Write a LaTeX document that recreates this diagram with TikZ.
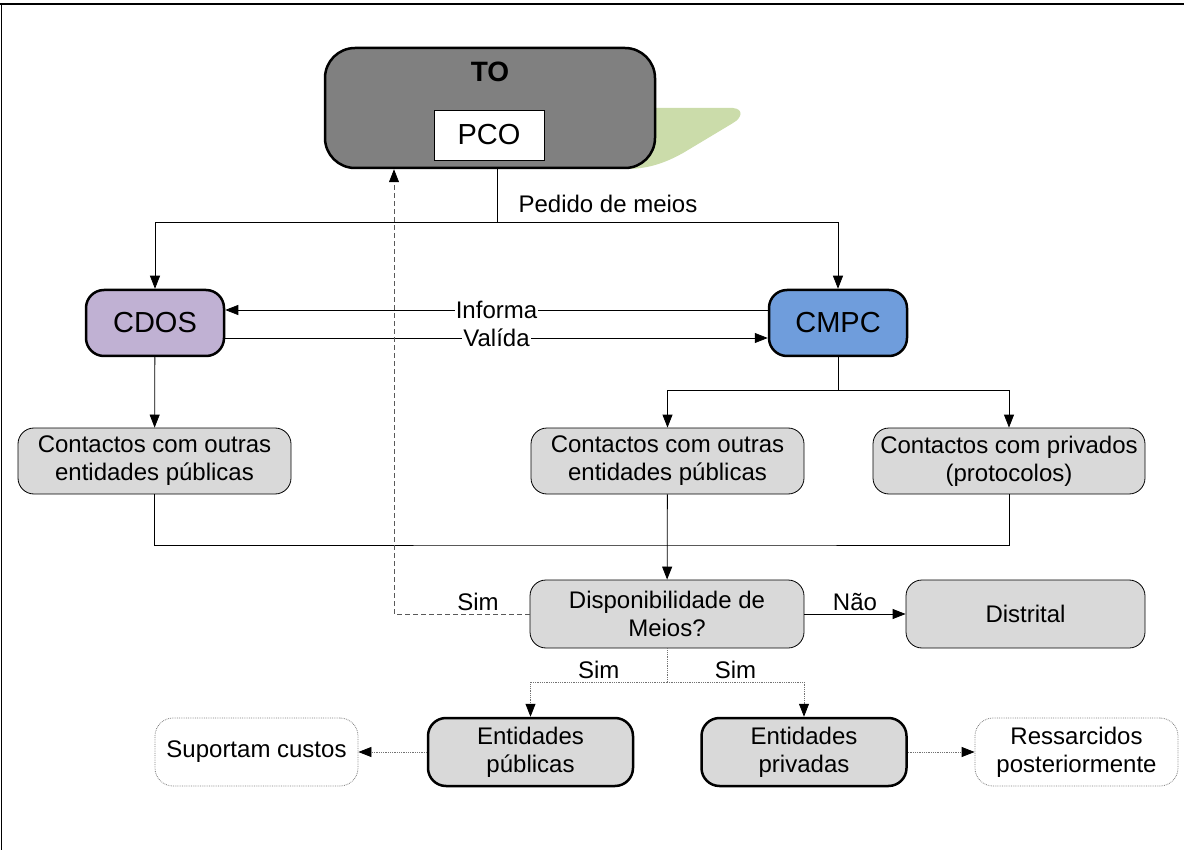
\documentclass[tikz,border=0pt]{standalone}
\usepackage{fontspec}
\setmainfont{Liberation Sans}
\usetikzlibrary{arrows.meta,positioning,calc}
\definecolor{togray}{RGB}{128,128,128}
\definecolor{leafgreen}{RGB}{203,220,170}
\definecolor{cdospurple}{RGB}{192,177,211}
\definecolor{cmpcblue}{RGB}{111,157,220}
\definecolor{boxgray}{RGB}{217,217,217}

\begin{document}
\begin{tikzpicture}[x=1pt,y=-1pt,
  every node/.style={font=\fontsize{24}{28}\selectfont},
  box/.style={draw,fill=boxgray,rounded corners=16pt,line width=0.8pt,minimum width=273pt,minimum height=66pt,align=center},
  keybox/.style={draw,rounded corners=18pt,line width=2.5pt,minimum width=138pt,minimum height=66pt,font=\fontsize{29}{32}\selectfont},
  entbox/.style={draw,fill=boxgray,rounded corners=18pt,line width=2.5pt,minimum width=205pt,minimum height=68pt,align=center},
  endbox/.style={draw=black!50,densely dotted,fill=white,rounded corners=18pt,line width=0.8pt,minimum width=203pt,minimum height=68pt,align=center},
  line/.style={line width=0.8pt},
  arr/.style={-{Triangle[length=13pt,width=10pt,color=black]},line width=0.8pt},
  dasharr/.style={arr,draw=black!65,dash pattern=on 5pt off 3pt,line width=0.7pt},
  dotline/.style={densely dotted,draw=black!55,line width=0.8pt},
  dotarr/.style={arr,dotline}
]
\useasboundingbox (0,0) rectangle (1184,850);
% Frame
\draw[line width=2.5pt] (0,4) -- (1184,4);
\draw[line width=1pt] (1,4) -- (1,850);

% Shadow behind TO
\fill[leafgreen] (640,108) -- (733,108) .. controls (744,109) and (742,118) .. (733,123)
  -- (683,153) .. controls (665,163) and (650,168) .. (630,169) -- cycle;

% Boxes
\node[draw,fill=togray,rounded corners=30pt,line width=2.5pt,minimum width=330pt,minimum height=120pt] (to) at (490,108) {};
\node[font=\fontsize{28}{30}\selectfont\bfseries] (tolbl) at (490,72) {TO};
\node[draw,fill=white,line width=0.8pt,minimum width=110pt,minimum height=50pt,font=\fontsize{29}{32}\selectfont] (pco) at (489,135) {PCO};
\node[keybox,fill=cdospurple] (cdos) at (155,323) {CDOS};
\node[keybox,fill=cmpcblue]   (cmpc) at (838,323) {CMPC};
\node[box] (pub1) at (154.5,461) {Contactos com outras\\entidades públicas};
\node[box] (pub2) at (667.5,461) {Contactos com outras\\entidades públicas};
\node[box,minimum width=272pt] (priv) at (1009,461) {Contactos com privados\\(protocolos)};
\node[box,minimum width=274pt,minimum height=68pt] (disp) at (667,614) {Disponibilidade de\\Meios?};
\node[box,minimum width=239pt,minimum height=68pt] (distrital) at (1025.5,614) {Distrital};
\node[entbox] (entpub)  at (530.5,752) {Entidades\\públicas};
\node[entbox] (entpriv) at (804,752)   {Entidades\\privadas};
\node[endbox] (custos)  at (256.5,752) {Suportam custos};
\node[endbox] (ressarc) at (1076.5,752) {Ressarcidos\\posteriormente};

% Connectors
\coordinate (pedido) at (497,222);
\draw[line] (to.south -| pedido) -- (pedido);
\node (pedidolbl) at (608,204) {Pedido de meios};
\draw[arr] (pedido) -| (cdos);
\draw[arr] (pedido) -| (cmpc);
\draw[arr] ([yshift=13pt]cmpc.west) -- ([yshift=13pt]cdos.east)
  node[midway,fill=white,inner sep=1pt]{Informa};
\draw[arr] ([yshift=-15pt]cdos.east) -- ([yshift=-15pt]cmpc.west)
  node[midway,fill=white,inner sep=1pt]{Valída};
\draw[arr] (cdos) -- (pub1);
\coordinate (cmpcsplit) at (838,390);
\draw[line] (cmpc) -- (cmpcsplit);
\draw[arr] (cmpcsplit) -| (pub2);
\draw[arr] (cmpcsplit) -| (priv);
\coordinate (merge) at (667,545);
\draw[line] (pub1) |- (merge) -| (priv);
\draw[arr] (pub2) -- (disp);
\draw[arr] (disp) -- (distrital) node[midway,above]{Não};
\coordinate (simcorner) at (394,614);
\draw[dasharr] (disp) -- (simcorner) node[pos=0.38,above,text=black]{Sim} -- (to.south -| simcorner);
\coordinate (simsplit) at (667,682);
\draw[dotline] (disp) -- (simsplit);
\draw[dotarr] (simsplit) -| (entpub)  node[pos=0.25,above,text=black]{Sim};
\draw[dotarr] (simsplit) -| (entpriv) node[pos=0.25,above,text=black]{Sim};
\draw[dotarr] (entpub) -- (custos);
\draw[dotarr] (entpriv) -- (ressarc);
\end{tikzpicture}
\end{document}
